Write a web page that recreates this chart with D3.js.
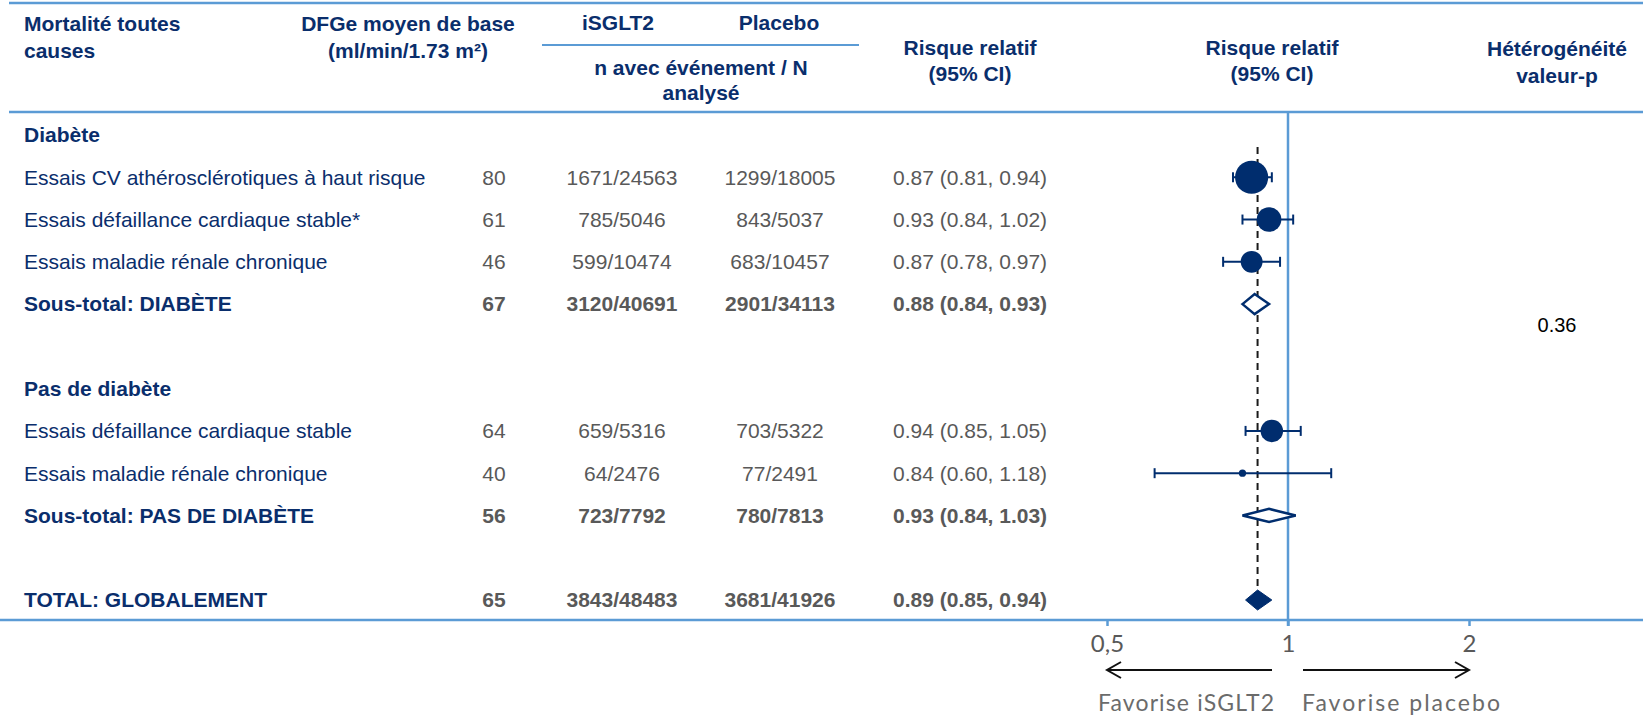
<!DOCTYPE html>
<html>
<head>
<meta charset="utf-8">
<script src="https://cdn.jsdelivr.net/npm/d3@7"></script>
<style>
  html, body { margin: 0; padding: 0; background: #fff; }
  svg { display: block; }
</style>
</head>
<body>
<svg id="chart" width="1643" height="718"></svg>
<script>
// Forest plot: all-cause mortality, SGLT2 inhibitors vs placebo
const rowLabels = [
  "Diabète",
  "Essais CV athérosclérotiques à haut risque",
  "Essais défaillance cardiaque stable*",
  "Essais maladie rénale chronique",
  "Sous-total: DIABÈTE",
  "",
  "Pas de diabète",
  "Essais défaillance cardiaque stable",
  "Essais maladie rénale chronique",
  "Sous-total: PAS DE DIABÈTE",
  "",
  "TOTAL: GLOBALEMENT"
];
const rowKinds = ["group", "study", "study", "study", "subtotal", "blank",
                  "group", "study", "study", "subtotal", "blank", "total"];
const egfrMean      = [null, 80, 61, 46, 67, null, null, 64, 40, 56, null, 65];
const sgltEvents    = [null, 1671, 785, 599, 3120, null, null, 659, 64, 723, null, 3843];
const sgltTotal     = [null, 24563, 5046, 10474, 40691, null, null, 5316, 2476, 7792, null, 48483];
const placeboEvents = [null, 1299, 843, 683, 2901, null, null, 703, 77, 780, null, 3681];
const placeboTotal  = [null, 18005, 5037, 10457, 34113, null, null, 5322, 2491, 7813, null, 41926];
const rrPoint = [null, 0.87, 0.93, 0.87, 0.88, null, null, 0.94, 0.84, 0.93, null, 0.89];
const rrLow   = [null, 0.81, 0.84, 0.78, 0.84, null, null, 0.85, 0.60, 0.84, null, 0.85];
const rrHigh  = [null, 0.94, 1.02, 0.97, 0.93, null, null, 1.05, 1.18, 1.03, null, 0.94];
const axisTicks = [0.5, 1, 2];
const axisTickLabels = ["0,5", "1", "2"];
const heterogeneityP = "0.36";

const rows = rowLabels.map((label, i) => ({
  i, label, kind: rowKinds[i], egfr: egfrMean[i],
  sE: sgltEvents[i], sN: sgltTotal[i], pE: placeboEvents[i], pN: placeboTotal[i],
  rr: rrPoint[i], lo: rrLow[i], hi: rrHigh[i]
}));

const NAVY = "#0a2e6c";
const MARK = "#002d6e";
const GREY = "#595959";
const BLUE = "#5b9bd5";
const FONT = "'Liberation Sans', Arial, Helvetica, sans-serif";
const AXFONT = "Lato, 'Open Sans', sans-serif";

const svg = d3.select("#chart");
const W = 1643;

const y = d3.scalePoint().domain(d3.range(rows.length)).range([135, 600]);
const x = d3.scaleLog().domain([0.5, 2]).range([1107, 1469]);

// columns
const colLabel = 24, colEgfr = 494, colSglt = 622, colPlac = 780, colRR = 970, colP = 1557;

// ---- table rules ----
svg.append("line").attr("x1", 9).attr("x2", W).attr("y1", 3).attr("y2", 3)
  .attr("stroke", BLUE).attr("stroke-width", 2.5);
svg.append("line").attr("x1", 9).attr("x2", W).attr("y1", 112).attr("y2", 112)
  .attr("stroke", BLUE).attr("stroke-width", 2.5);
svg.append("line").attr("x1", 542).attr("x2", 859).attr("y1", 45).attr("y2", 45)
  .attr("stroke", BLUE).attr("stroke-width", 2);

// ---- header ----
const head = svg.append("g").attr("font-family", FONT).attr("font-size", 21)
  .attr("font-weight", "bold").attr("fill", NAVY);
function headText(tx, ty, str, anchor) {
  return head.append("text").attr("x", tx).attr("y", ty).attr("dy", "0.35em")
    .attr("text-anchor", anchor || "middle").text(str);
}
headText(colLabel, 24, "Mortalité toutes", "start");
headText(colLabel, 51, "causes", "start");
headText(408, 24, "DFGe moyen de base");
headText(408, 51, "(ml/min/1.73 m²)");
headText(618, 23, "iSGLT2");
headText(779, 23, "Placebo");
headText(701, 68, "n avec événement / N");
headText(701, 93, "analysé");
headText(colRR, 48, "Risque relatif");
headText(colRR, 74, "(95% CI)");
headText(1272, 48, "Risque relatif");
headText(1272, 74, "(95% CI)");
headText(colP, 49, "Hétérogénéité");
headText(colP, 76, "valeur-p");

// ---- table body ----
const body = svg.append("g").attr("font-family", FONT).attr("font-size", 21);
const bold = d => d.kind !== "study";
const withData = rows.filter(d => d.kind === "study" || d.kind === "subtotal" || d.kind === "total");

body.selectAll("text.label").data(rows.filter(d => d.label)).join("text")
  .attr("class", "label")
  .attr("x", colLabel).attr("y", d => y(d.i)).attr("dy", "0.35em")
  .attr("fill", NAVY).attr("font-weight", d => bold(d) ? "bold" : "normal")
  .text(d => d.label);

const cells = [
  { x: colEgfr, f: d => d.egfr, anchor: "middle" },
  { x: colSglt, f: d => `${d.sE}/${d.sN}`, anchor: "middle" },
  { x: colPlac, f: d => `${d.pE}/${d.pN}`, anchor: "middle" },
  { x: 893, f: d => `${d.rr.toFixed(2)} (${d.lo.toFixed(2)}, ${d.hi.toFixed(2)})`, anchor: "start" }
];
cells.forEach(c => {
  body.append("g").selectAll("text").data(withData).join("text")
    .attr("x", c.x).attr("y", d => y(d.i)).attr("dy", "0.35em")
    .attr("text-anchor", c.anchor)
    .attr("fill", GREY).attr("font-weight", d => bold(d) ? "bold" : "normal")
    .text(c.f);
});

// heterogeneity p-value, between the two subgroups
body.append("text").attr("x", colP).attr("y", (y(4) + y(5)) / 2).attr("dy", "0.35em")
  .attr("text-anchor", "middle").attr("font-size", 20).attr("fill", "#000")
  .text(heterogeneityP);

// ---- plot ----
const plot = svg.append("g");
const totalRow = rows.find(d => d.kind === "total");

// reference line at RR = 1 (extends into the axis tick)
plot.append("line").attr("x1", x(1)).attr("x2", x(1)).attr("y1", 112).attr("y2", 626)
  .attr("stroke", BLUE).attr("stroke-width", 2.5);

// bottom rule / axis
plot.append("line").attr("x1", 0).attr("x2", W).attr("y1", 620).attr("y2", 620)
  .attr("stroke", BLUE).attr("stroke-width", 2.5);
const axis = d3.axisBottom(x).tickValues(axisTicks)
  .tickFormat((d, i) => axisTickLabels[i]).tickSize(6).tickPadding(9);
const axG = plot.append("g").attr("transform", "translate(0,620)").call(axis);
axG.select(".domain").remove();
axG.selectAll(".tick line").attr("stroke", BLUE).attr("stroke-width", 2.5);
axG.selectAll(".tick text").attr("font-family", AXFONT).attr("font-size", 24)
  .attr("fill", GREY).attr("dy", "0.7em");

// overall estimate, dashed
plot.append("line").attr("x1", x(totalRow.rr)).attr("x2", x(totalRow.rr))
  .attr("y1", 147).attr("y2", y(totalRow.i) - 10)
  .attr("stroke", "#1a1a1a").attr("stroke-width", 2).attr("stroke-dasharray", "7,5");

// study confidence intervals
const studies = rows.filter(d => d.kind === "study");
const ci = plot.append("g").attr("stroke", MARK).attr("stroke-width", 2);
studies.forEach(d => {
  const yy = y(d.i);
  ci.append("line").attr("x1", x(d.lo)).attr("x2", x(d.hi)).attr("y1", yy).attr("y2", yy);
  ci.append("line").attr("x1", x(d.lo)).attr("x2", x(d.lo)).attr("y1", yy - 5).attr("y2", yy + 5);
  ci.append("line").attr("x1", x(d.hi)).attr("x2", x(d.hi)).attr("y1", yy - 5).attr("y2", yy + 5);
});

// study point estimates, area by number of events
const r = d3.scaleSqrt().domain([0, d3.max(studies, d => d.sE + d.pE)]).range([0, 16.6]);
plot.append("g").selectAll("circle").data(studies).join("circle")
  .attr("cx", d => x(d.rr)).attr("cy", d => y(d.i))
  .attr("r", d => Math.max(3, r(d.sE + d.pE)))
  .attr("fill", MARK);

// pooled estimates as diamonds
const pooled = rows.filter(d => d.kind === "subtotal" || d.kind === "total");
const halfH = d3.scalePow().exponent(0.3)
  .domain([0, d3.max(rows.filter(d => d.kind === "subtotal"), d => d.sE + d.pE)])
  .range([0, 10]).clamp(true);
plot.append("g").selectAll("path").data(pooled).join("path")
  .attr("d", d => {
    const yy = y(d.i), h = halfH(d.sE + d.pE);
    return `M${x(d.lo)},${yy} L${x(d.rr)},${yy - h} L${x(d.hi)},${yy} L${x(d.rr)},${yy + h} Z`;
  })
  .attr("fill", d => d.kind === "total" ? MARK : "#fff")
  .attr("stroke", MARK).attr("stroke-width", d => d.kind === "total" ? 1 : 2.5)
  .attr("stroke-linejoin", "miter");

// direction arrows and captions
const arrowY = 670;
const arrows = plot.append("g").attr("stroke", "#111").attr("stroke-width", 2).attr("fill", "none");
arrows.append("line").attr("x1", x(1) - 16).attr("x2", x(0.5)).attr("y1", arrowY).attr("y2", arrowY);
arrows.append("polyline")
  .attr("points", `${x(0.5) + 14},${arrowY - 8} ${x(0.5)},${arrowY} ${x(0.5) + 14},${arrowY + 8}`);
arrows.append("line").attr("x1", x(1) + 15).attr("x2", x(2)).attr("y1", arrowY).attr("y2", arrowY);
arrows.append("polyline")
  .attr("points", `${x(2) - 14},${arrowY - 8} ${x(2)},${arrowY} ${x(2) - 14},${arrowY + 8}`);

const cap = plot.append("g").attr("font-family", AXFONT).attr("font-size", 23).attr("fill", "#6b6b6b");
cap.append("text").attr("x", x(0.5) - 9).attr("y", 703).attr("dy", "0.35em")
  .attr("textLength", 176).attr("lengthAdjust", "spacing").text("Favorise iSGLT2");
cap.append("text").attr("x", x(1) + 14).attr("y", 703).attr("dy", "0.35em")
  .attr("textLength", 198).attr("lengthAdjust", "spacing").text("Favorise placebo");
</script>
</body>
</html>
